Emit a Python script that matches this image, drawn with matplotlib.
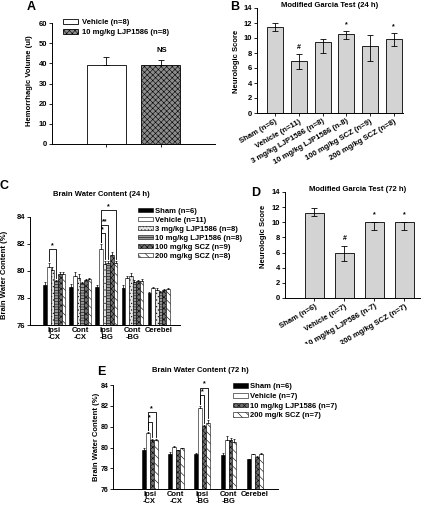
import numpy as np
import matplotlib
matplotlib.use('Agg')
import matplotlib.pyplot as plt
from matplotlib.patches import Rectangle

plt.rcParams['font.family'] = ['Liberation Sans', 'DejaVu Sans']
plt.rcParams['font.weight'] = 'bold'
plt.rcParams['hatch.linewidth'] = 0.4

W, H = 436, 512

# ---- data ----
# A: hemorrhagic volume
a_labels = ['Vehicle (n=8)', '10 mg/kg LJP1586 (n=8)']
a_volume = [39.0, 39.0]
a_err = [4.0, 2.6]

# B: Garcia test 24 h (median, quartiles)
b_labels = ['Sham (n=6)', 'Vehicle (n=11)', '3 mg/kg LJP1586 (n=8)',
            '10 mg/kg LJP1586 (n-8)', '100 mg/kg SCZ (n=9)', '200 mg/kg SCZ (n=8)']
b_median = [11.5, 7.0, 9.5, 10.5, 9.0, 9.9]
b_q1 = [10.9, 5.9, 8.0, 9.9, 7.0, 9.0]
b_q3 = [12.0, 7.9, 9.9, 10.9, 10.4, 10.7]
b_marks = ['', '#', '', '*', '', '*']

# C: brain water content 24 h
regions = ['Ipsi\n-CX', 'Cont\n-CX', 'Ipsi\n-BG', 'Cont\n-BG', 'Cerebel']
c_labels = ['Sham (n=6)', 'Vehicle (n=11)', '3 mg/kg LJP1586 (n=8)',
            '10 mg/kg LJP1586 (n=8)', '100 mg/kg SCZ (n=9)', '200 mg/kg SCZ (n=8)']
c_sham = [78.95, 78.8, 78.8, 78.7, 78.35]
c_vehicle = [80.26, 79.65, 81.65, 79.5, 78.75]
c_ljp3 = [80.05, 79.5, 80.5, 79.6, 78.6]
c_ljp10 = [79.25, 79.1, 80.6, 79.2, 78.45]
c_scz100 = [79.75, 79.3, 81.2, 79.25, 78.6]
c_scz200 = [79.75, 79.4, 80.6, 79.25, 78.65]
c_sham_err = [0.2, 0.2, 0.15, 0.25, 0.1]
c_vehicle_err = [0.3, 0.25, 0.3, 0.15, 0.05]
c_ljp3_err = [0.2, 0.25, 0.2, 0.25, 0.1]
c_ljp10_err = [0.1, 0.1, 0.15, 0.1, 0.05]
c_scz100_err = [0.2, 0.1, 0.2, 0.1, 0.05]
c_scz200_err = [0.2, 0.1, 0.15, 0.15, 0.05]
# (region, from bar, to bar, bracket height, label)
c_brackets = [(0, 1, 3, 81.6, '*'), (2, 1, 2, 82.8, '*'),
              (2, 1, 3, 83.4, '**'), (2, 1, 5, 84.5, '*')]

# D: Garcia test 72 h
d_labels = ['Sham (n=6)', 'Vehicle (n=7)', '10 mg/kg LJP586 (n-7)', '200 mg/kg SCZ (n=7)']
d_median = [11.2, 5.9, 10.0, 10.0]
d_q1 = [10.8, 4.9, 9.0, 9.0]
d_q3 = [11.9, 6.9, 10.0, 10.0]
d_marks = ['', '#', '*', '*']

# E: brain water content 72 h
e_labels = ['Sham (n=6)', 'Vehicle (n=7)', '10 mg/kg LJP1586 (n=7)', '200 mg/k SCZ (n=7)']
e_sham = [79.0, 78.7, 78.67, 78.6, 78.3]
e_vehicle = [80.3, 79.25, 82.2, 79.8, 78.67]
e_ljp10 = [79.8, 79.0, 80.85, 79.75, 78.5]
e_scz200 = [79.8, 79.13, 81.1, 79.65, 78.67]
e_sham_err = [0.2, 0.15, 0.15, 0.2, 0.05]
e_vehicle_err = [0.1, 0.05, 0.2, 0.25, 0.05]
e_ljp10_err = [0.05, 0.05, 0.1, 0.2, 0.05]
e_scz200_err = [0.05, 0.05, 0.2, 0.2, 0.1]
e_ticks = np.linspace(76, 84, 6)
e_ticklabels = ['76', '78', '80', '80', '82', '84']
e_brackets = [(0, 1, 2, 81.2, '*'), (0, 1, 3, 81.9, '*'),
              (2, 1, 2, 83.2, '*'), (2, 1, 3, 83.8, '*')]

FS = 5.5

fig = plt.figure(figsize=(W / 100, H / 100), dpi=100)


def add_ax(l, t, r, b):
    return fig.add_axes([l / W, 1 - b / H, (r - l) / W, (b - t) / H])


def ftext(x, y, s, **kw):
    kw.setdefault('ha', 'center')
    kw.setdefault('va', 'center')
    kw.setdefault('fontsize', FS)
    fig.text(x / W, 1 - y / H, s, **kw)


def style(ax):
    for s in ['top', 'right']:
        ax.spines[s].set_visible(False)
    for s in ['left', 'bottom']:
        ax.spines[s].set_linewidth(0.7)
    ax.tick_params(length=2, width=0.6, labelsize=FS, pad=1.5, direction='out')


def bracket(ax, x1, x2, y, y1, y2, s):
    ax.plot([x1, x1, x2, x2], [y1, y, y, y2], color='k', lw=0.6, clip_on=False)
    ax.text((x1 + x2) / 2, y, s, ha='center', va='bottom', fontsize=5, clip_on=False)


# ---- A ----
axA = add_ax(52, 23, 215, 144)
style(axA)
xa = np.array([1, 2])
hA = []
for i, (v, e) in enumerate(zip(a_volume, a_err)):
    b = axA.bar(xa[i], v, 0.72, color='white' if i == 0 else '#8c8c8c',
                edgecolor='k', lw=0.6, hatch=None if i == 0 else 'xxxxxx',
                label=a_labels[i])
    axA.errorbar(xa[i], v, yerr=[[0], [e]], color='k', lw=0.6, capsize=2, capthick=0.6)
    hA.append(b)
axA.set_xlim(0, 3)
axA.set_ylim(0, 60)
axA.set_yticks(range(0, 61, 10))
axA.set_xticks(xa)
axA.set_xticklabels([])
axA.legend(handles=hA, loc='upper left', bbox_to_anchor=(63 / W, 1 - 19 / H),
           bbox_transform=fig.transFigure, frameon=False, fontsize=FS,
           borderpad=0, borderaxespad=0, handlelength=1.9, handleheight=0.6,
           handletextpad=0.6, labelspacing=0.35)
ftext(162, 50, 'NS')
ftext(31, 7, 'A', fontsize=9)
ftext(29.5, 81, 'Hemorrhagic Volume (ul)', rotation=90)

# ---- B ----
axB = add_ax(257, 8, 403, 113)
style(axB)
xb = np.arange(len(b_labels))
axB.bar(xb, b_median, 0.68, color='#d3d3d3', edgecolor='k', lw=0.6)
axB.errorbar(xb, b_median, yerr=[np.subtract(b_median, b_q1), np.subtract(b_q3, b_median)],
             fmt='none', ecolor='k', elinewidth=0.6, capsize=2, capthick=0.6)
for x, q, m in zip(xb, b_q3, b_marks):
    if m:
        axB.text(x, q + 0.4, m, ha='center', va='bottom', fontsize=5)
axB.set_xlim(-0.77, 5.39)
axB.set_ylim(0, 14)
axB.set_yticks(range(0, 15, 2))
axB.set_xticks(xb)
axB.set_xticklabels(b_labels, rotation=30, ha='right', rotation_mode='anchor')
ftext(330, 5.5, 'Modified Garcia Test (24 h)')
ftext(235, 7, 'B', fontsize=9)
ftext(236.5, 61, 'Neurologic Score', rotation=90)

# ---- C ----
axC = add_ax(30, 216.7, 180, 325)
style(axC)
xc = np.arange(len(regions))
wc = 0.14
c_vals = [c_sham, c_vehicle, c_ljp3, c_ljp10, c_scz100, c_scz200]
c_errs = [c_sham_err, c_vehicle_err, c_ljp3_err, c_ljp10_err, c_scz100_err, c_scz200_err]
c_face = ['black', 'white', '#e6e6e6', '#9a9a9a', '#707070', 'white']
c_hatch = [None, None, '.....', '------', 'xxxxxx', '\\\\\\\\']
for i in range(6):
    pos = xc + (i - 2.5) * wc
    axC.bar(pos, np.array(c_vals[i]) - 76, wc, bottom=76, color=c_face[i],
            edgecolor='k', lw=0.4, hatch=c_hatch[i], label=c_labels[i])
    axC.errorbar(pos, c_vals[i], yerr=[np.zeros(5), c_errs[i]], fmt='none',
                 ecolor='k', elinewidth=0.5, capsize=1, capthick=0.5)
for g, i1, i2, y, s in c_brackets:
    x1 = g + (i1 - 2.5) * wc
    x2 = g + (i2 - 2.5) * wc
    y1 = c_vals[i1][g] + c_errs[i1][g] + 0.15
    y2 = c_vals[i2][g] + c_errs[i2][g] + 0.15
    bracket(axC, x1, x2, y, y1, y2, s)
axC.set_xlim(-0.93, 4.82)
axC.set_ylim(76, 84)
axC.set_yticks(range(76, 85, 2))
axC.set_xticks(xc)
axC.set_xticklabels(regions, linespacing=1.0)
axC.tick_params(axis='x', length=0)
axC.legend(loc='upper left', bbox_to_anchor=(138 / W, 1 - 207.5 / H),
           bbox_transform=fig.transFigure, frameon=False, fontsize=FS,
           borderpad=0, borderaxespad=0, handlelength=1.9, handleheight=0.6,
           handletextpad=0.3, labelspacing=0.25)
ftext(101, 194, 'Brain Water Content (24 h)')
ftext(4, 186, 'C', fontsize=9)
ftext(4.5, 275, 'Brain Water Content (%)', rotation=90)

# ---- D ----
axD = add_ax(285, 192, 420, 298)
style(axD)
xd = np.arange(len(d_labels))
axD.bar(xd, d_median, 0.63, color='#d3d3d3', edgecolor='k', lw=0.6)
axD.errorbar(xd, d_median, yerr=[np.subtract(d_median, d_q1), np.subtract(d_q3, d_median)],
             fmt='none', ecolor='k', elinewidth=0.6, capsize=2, capthick=0.6)
for x, q, m in zip(xd, d_q3, d_marks):
    if m:
        axD.text(x, q + 0.5, m, ha='center', va='bottom', fontsize=5)
axD.set_xlim(-0.98, 3.52)
axD.set_ylim(0, 14)
axD.set_yticks(range(0, 15, 2))
axD.set_xticks(xd)
axD.set_xticklabels(d_labels, rotation=30, ha='right', rotation_mode='anchor')
ftext(358, 189.5, 'Modified Garcia Test (72 h)')
ftext(256, 193, 'D', fontsize=9)
ftext(263, 236, 'Neurologic Score', rotation=90)

# white area of panel E hides the ends of the D labels
fig.patches.append(Rectangle((250 / W, 0), 1 - 250 / W, 1 - 344 / H,
                             transform=fig.transFigure, facecolor='white',
                             edgecolor='none', zorder=1))

# ---- E ----
axE = add_ax(113.3, 385, 278, 489.3)
axE.set_zorder(2)
axE.patch.set_alpha(0)
style(axE)
axE.tick_params(axis='y', labelsize=5)
xe = np.arange(len(regions))
we = 0.15
e_vals = [e_sham, e_vehicle, e_ljp10, e_scz200]
e_errs = [e_sham_err, e_vehicle_err, e_ljp10_err, e_scz200_err]
e_face = ['black', 'white', '#707070', 'white']
e_hatch = [None, None, 'xxxxxx', '\\\\\\\\']
for i in range(4):
    pos = xe + (i - 1.5) * we
    axE.bar(pos, np.array(e_vals[i]) - 76, we, bottom=76, color=e_face[i],
            edgecolor='k', lw=0.4, hatch=e_hatch[i], label=e_labels[i])
    axE.errorbar(pos, e_vals[i], yerr=[np.zeros(5), e_errs[i]], fmt='none',
                 ecolor='k', elinewidth=0.5, capsize=1, capthick=0.5)
for g, i1, i2, y, s in e_brackets:
    x1 = g + (i1 - 1.5) * we
    x2 = g + (i2 - 1.5) * we
    y1 = e_vals[i1][g] + e_errs[i1][g] + 0.15
    y2 = e_vals[i2][g] + e_errs[i2][g] + 0.15
    bracket(axE, x1, x2, y, y1, y2, s)
axE.set_xlim(-1.38, 4.88)
axE.set_ylim(76, 84)
axE.set_yticks(e_ticks)
axE.set_yticklabels(e_ticklabels)
axE.set_xticks(xe)
axE.set_xticklabels(regions, linespacing=1.0)
axE.tick_params(axis='x', length=0)
axE.legend(loc='upper left', bbox_to_anchor=(233 / W, 1 - 383 / H),
           bbox_transform=fig.transFigure, frameon=False, fontsize=FS,
           borderpad=0, borderaxespad=0, handlelength=1.9, handleheight=0.6,
           handletextpad=0.3, labelspacing=0.35)
ftext(200, 371, 'Brain Water Content (72 h)')
ftext(101, 372, 'E', fontsize=9)
ftext(96, 437, 'Brain Water Content (%)', rotation=90)

fig.savefig('out.png', dpi=100)
